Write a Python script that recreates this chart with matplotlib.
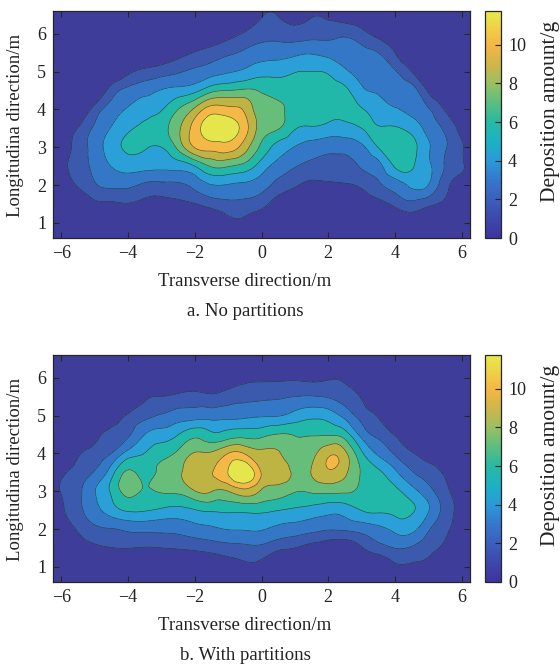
import numpy as np
import matplotlib
matplotlib.use("Agg")
import matplotlib.pyplot as plt
from matplotlib.colors import LinearSegmentedColormap, Normalize
import matplotlib.cm as cm
import matplotlib.tri as mtri

plt.rcParams['font.family'] = ['Liberation Serif', 'DejaVu Serif']

# grid (m)
x_grid = np.arange(-6.5, 6.51, 0.5)   # transverse, 27 columns
y_grid = np.arange(0.5, 7.01, 0.5)    # longitudinal, 14 rows

# Deposition amount (g); each inner list is one x column, y from 0.5 to 7.0
no_partitions = [
    [0, 0, 0, 0.1, 0.2, 0.1, 0, 0, 0, 0, 0, 0, 0, 0],
    [0, 0, 0.2, 0.8, 1.0, 0.7, 0.3, 0, 0, 0, 0, 0, 0, 0],
    [0, 0, 0.16, 1.43, 1.87, 1.79, 1.36, 0, 0, 0, 0, 0, 0, 0],
    [0, 0, 1.0, 2.48, 2.96, 3.2, 2.81, 1.81, 0.1, 0, 0, 0, 0, 0],
    [0, 0, 1.1, 2.86, 3.94, 4.54, 3.99, 3.19, 1.9, 0, 0, 0, 0, 0],
    [0, 0, 1.24, 2.87, 4.46, 5.45, 5.01, 4.07, 2.98, 1.0, 0, 0, 0, 0],
    [0, 0, 0.88, 2.36, 4.32, 5.34, 5.42, 4.63, 3.48, 1.64, 0, 0, 0, 0],
    [0, 0, 0.76, 2.27, 4.2, 5.2, 6.02, 5.09, 3.98, 2.03, 0.3, 0, 0, 0],
    [0, 0, 0.96, 2.37, 4.45, 6.86, 7.5, 6.5, 4.34, 2.44, 0.82, 0, 0, 0],
    [0, 0, 1.24, 2.98, 5.2, 9.19, 9.7, 8.06, 4.81, 2.89, 1.36, 0, 0, 0],
    [0, 0.04, 1.84, 3.86, 6.63, 9.67, 11.3, 9.71, 6.12, 3.34, 1.88, 0.2, 0, 0],
    [0, 0.9, 2.23, 3.83, 6.6, 9.81, 11.19, 9.5, 6.5, 3.76, 2.38, 0.79, 0, 0],
    [0, 0.9, 2.23, 3.66, 6.02, 8.38, 9.67, 8.85, 6.72, 4.16, 2.81, 1.46, 0.1, 0],
    [0, 0.15, 1.74, 3.18, 4.57, 6.18, 7.17, 7.1, 6.33, 4.72, 3.22, 2.08, 1.17, 0.3],
    [0, 0, 0.67, 2.16, 3.43, 4.65, 6.6, 6.8, 5.91, 4.8, 3.34, 2.14, 1.22, 0.3],
    [0, 0, 0.2, 1.47, 2.69, 3.85, 5.29, 5.8, 5.69, 5.14, 3.56, 1.94, 0.62, 0],
    [0, 0, 0, 0.97, 2.22, 3.33, 5.05, 5.76, 5.7, 5.2, 3.77, 2.15, 1.16, 0],
    [0, 0, 0, 1.08, 1.97, 3.03, 4.77, 5.6, 5.68, 5.04, 3.49, 2.18, 1.02, 0],
    [0, 0, 0, 1.17, 2.06, 3.1, 4.69, 5.59, 5.47, 4.15, 3.25, 2.36, 0.6, 0],
    [0, 0, 0.34, 1.54, 2.7, 3.57, 5.2, 5.31, 4.17, 3.47, 2.93, 1.79, 0.3, 0],
    [0, 0, 0.85, 2.38, 3.42, 5.24, 5.31, 4.47, 3.68, 3.14, 2.6, 0.78, 0, 0],
    [0, 0, 1.61, 3.23, 5.33, 6.0, 5.33, 4.04, 3.34, 2.72, 1.3, 0, 0, 0],
    [0, 0.37, 2.23, 4.16, 5.36, 5.7, 4.71, 3.49, 3.16, 1.3, 0, 0, 0, 0],
    [0, 0, 1.64, 3.9, 4.22, 4.08, 3.47, 2.74, 1.1, 0, 0, 0, 0, 0],
    [0, 0, 1.0, 1.76, 2.52, 2.76, 2.36, 1.2, 0.2, 0, 0, 0, 0, 0],
    [0, 0, 0.3, 0.9, 1.41, 1.41, 0.9, 0.3, 0, 0, 0, 0, 0, 0],
    [0, 0, 0, 0.5, 0.86, 0.8, 0.4, 0, 0, 0, 0, 0, 0, 0],
]

with_partitions = [
    [0, 0, 0, 0, 0.3, 0.5, 0.2, 0, 0, 0, 0, 0, 0, 0],
    [0, 0, 0, 0.5, 1.1, 1.35, 1.1, 0.3, 0, 0, 0, 0, 0, 0],
    [0, 0, 0.54, 1.48, 2.25, 2.24, 1.72, 1.1, 0, 0, 0, 0, 0, 0],
    [0, 0, 1.04, 2.34, 3.4, 3.85, 2.71, 1.82, 0.9, 0, 0, 0, 0, 0],
    [0, 0, 1.27, 2.55, 4.61, 5.4, 4.62, 2.6, 1.6, 0.6, 0, 0, 0, 0],
    [0, 0, 1.33, 2.86, 5.39, 6.95, 6.7, 4.43, 2.39, 1.45, 0, 0, 0, 0],
    [0, 0, 1.24, 2.96, 5.33, 6.38, 5.9, 5.23, 3.9, 2.21, 1.0, 0, 0, 0],
    [0, 0, 1.3, 2.95, 4.98, 6.62, 7.04, 5.99, 4.49, 2.72, 1.33, 0, 0, 0],
    [0, 0, 1.4, 3.04, 4.78, 6.79, 7.6, 6.78, 5.16, 3.18, 1.63, 0, 0, 0],
    [0, 0, 1.57, 3.41, 5.14, 7.75, 8.62, 7.89, 6.11, 3.32, 1.82, 0.2, 0, 0],
    [0, 0.21, 1.81, 3.68, 5.39, 7.85, 9.05, 7.98, 5.47, 3.38, 1.56, 0, 0, 0],
    [0, 0.63, 2.08, 3.96, 5.49, 7.8, 10.45, 9.1, 5.77, 3.45, 1.98, 0.3, 0, 0],
    [0, 0.97, 2.24, 3.99, 5.52, 8.67, 11.7, 9.0, 5.97, 3.59, 2.2, 0.88, 0, 0],
    [0, 0.81, 2.25, 3.99, 5.52, 7.64, 9.0, 8.07, 6.09, 3.76, 2.33, 1.01, 0, 0],
    [0, 0, 1.59, 3.59, 5.24, 7.2, 8.4, 7.9, 6.56, 3.82, 2.43, 1.02, 0, 0],
    [0, 0, 1.3, 3.32, 4.99, 6.6, 7.6, 7.09, 6.4, 4.39, 2.6, 1.09, 0, 0],
    [0, 0, 0.8, 3.0, 4.68, 6.67, 7.86, 7.34, 6.39, 4.85, 2.68, 1.0, 0, 0],
    [0, 0, 0.46, 2.72, 4.33, 6.78, 8.95, 8.8, 6.37, 4.64, 2.49, 1.15, 0, 0],
    [0, 0, 0.25, 2.81, 4.46, 6.7, 8.11, 8.12, 5.82, 3.47, 2.05, 0.95, 0, 0],
    [0, 0, 1.18, 3.09, 5.24, 6.21, 6.4, 5.45, 3.47, 2.13, 1.16, 0, 0, 0],
    [0, 0, 2.08, 3.57, 5.44, 6.0, 5.44, 3.67, 2.22, 1.16, 0, 0, 0, 0],
    [0, 1.01, 2.63, 4.25, 5.57, 5.56, 4.16, 2.45, 1.2, 0, 0, 0, 0, 0],
    [0, 1.04, 2.48, 4.31, 5.35, 4.41, 2.74, 1.43, 0.2, 0, 0, 0, 0, 0],
    [0, 0.81, 1.75, 2.79, 4.0, 3.09, 1.89, 0.79, 0, 0, 0, 0, 0, 0],
    [0, 0, 1.07, 1.57, 2.1, 1.65, 1.13, 0.5, 0, 0, 0, 0, 0, 0],
    [0, 0, 0.4, 0.7, 0.89, 0.7, 0.4, 0, 0, 0, 0, 0, 0, 0],
    [0, 0, 0, 0.3, 0.5, 0.3, 0, 0, 0, 0, 0, 0, 0, 0],
]

levels = [-100, 1.3, 2.6, 3.9, 5.2, 6.5, 7.8, 9.1, 10.4, 100]
band_colors = ['#3f3d9a', '#3c5aad', '#3577c7', '#2a9fd8', '#22b8a9',
               '#67be7b', '#bdb444', '#f3b846', '#e5e54c']
cbar_values = [0, 1.0, 2.0, 3.0, 4.0, 5.0, 6.0, 7.0, 8.0, 9.0, 10.0, 11.0, 11.75]
cbar_colors = ['#3f339f', '#3d49ab', '#3b5fbe', '#3577cc', '#2a9bd8', '#1cb1c4',
               '#27b9a3', '#5bbe80', '#99bf62', '#d0b64a', '#f4b744', '#eed448', '#e7e94a']
cmax = 11.75

captions = ['a. No partitions', 'b. With partitions']
xlabel = 'Transverse direction/m'
ylabel = 'Longitudina direction/m'
cblabel = 'Deposition amount/g'

fig = plt.figure(figsize=(5.6, 6.66), dpi=100)
W, H = 560.0, 666.0

cmap_cb = LinearSegmentedColormap.from_list(
    'parula_like', [(v / cmax, c) for v, c in zip(cbar_values, cbar_colors)])

panels = [(no_partitions, 11), (with_partitions, 355)]
X, Y = np.meshgrid(x_grid, y_grid)
triang = mtri.Triangulation(X.ravel(), Y.ravel())
refiner = mtri.UniformTriRefiner(triang)
edge = '#262626'
txt = '#222222'
for idx, (data, top_px) in enumerate(panels):
    Z = np.array(data, dtype=float).T
    tri_f, z_f = refiner.refine_field(Z.ravel(), subdiv=3)
    bottom_px = top_px + 227
    ax = fig.add_axes([53 / W, 1 - bottom_px / H, 417 / W, 227 / H])
    ax.tricontourf(tri_f, z_f, levels=levels, colors=band_colors)
    ax.tricontour(tri_f, z_f, levels=levels[1:-1], colors='#2a2a2a',
                  linewidths=0.45, alpha=0.8)
    ax.set_xlim(-6.25, 6.25)
    ax.set_ylim(0.6, 6.6)
    ax.set_xticks([-6, -4, -2, 0, 2, 4, 6])
    ax.set_yticks([1, 2, 3, 4, 5, 6])
    ax.tick_params(direction='in', top=True, right=True, length=4, width=0.8,
                   labelsize=13, colors=edge, labelcolor=txt, pad=5)
    for s in ax.spines.values():
        s.set_color(edge)
        s.set_linewidth(0.9)

    fig.text(16 / W, 1 - (top_px + 114) / H, ylabel, rotation=90, ha='center',
             va='center', fontsize=13.5, color=txt)
    fig.text(245 / W, 1 - (top_px + 270) / H, xlabel, ha='center', va='center',
             fontsize=13.5, color=txt)
    fig.text(245 / W, 1 - (top_px + 300) / H, captions[idx], ha='center', va='center',
             fontsize=13.5, color=txt)

    cax = fig.add_axes([485 / W, 1 - bottom_px / H, 16 / W, 227 / H])
    sm = cm.ScalarMappable(norm=Normalize(0, cmax), cmap=cmap_cb)
    cb = fig.colorbar(sm, cax=cax)
    cb.set_ticks([0, 2, 4, 6, 8, 10])
    cb.ax.tick_params(direction='in', length=4, width=0.8, labelsize=13,
                      colors=edge, labelcolor=txt, pad=5)
    cb.outline.set_edgecolor(edge)
    cb.outline.set_linewidth(0.9)
    fig.text(551 / W, 1 - (top_px + 100) / H, cblabel, rotation=90, ha='center',
             va='center', fontsize=15.5, color=txt)

fig.savefig('out.png', dpi=100)
